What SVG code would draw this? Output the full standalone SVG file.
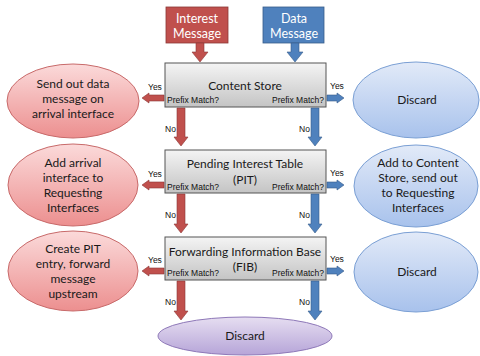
<svg xmlns="http://www.w3.org/2000/svg" width="480" height="356" viewBox="0 0 480 356">
<defs>
<linearGradient id="gGray" x1="0" y1="0" x2="0" y2="1"><stop offset="0" stop-color="#f4f4f4"/><stop offset="1" stop-color="#c4c4c4"/></linearGradient>
<linearGradient id="gPink" x1="0" y1="0" x2="0" y2="1"><stop offset="0" stop-color="#fbdada"/><stop offset="1" stop-color="#ec8f8f"/></linearGradient>
<linearGradient id="gBlue" x1="0" y1="0" x2="0" y2="1"><stop offset="0" stop-color="#e2eaf8"/><stop offset="1" stop-color="#a8c2ec"/></linearGradient>
<linearGradient id="gPurple" x1="0" y1="0" x2="0" y2="1"><stop offset="0" stop-color="#e6def1"/><stop offset="1" stop-color="#b6a5d8"/></linearGradient>
</defs>
<style>
.box{fill:url(#gGray);stroke:#555;stroke-width:1}
.pink{fill:url(#gPink);stroke:#c86a6a;stroke-width:1}
.blue{fill:url(#gBlue);stroke:#7a9fd4;stroke-width:1}
.purple{fill:url(#gPurple);stroke:#8e78b8;stroke-width:1}
.t{font-family:Lato,"Open Sans",sans-serif;font-size:12px;fill:#1a1a1a;text-anchor:middle}
.tw{font-family:Lato,"Open Sans",sans-serif;font-size:12.5px;fill:#ffffff;text-anchor:middle}
.s{font-family:"Liberation Sans",Arial,sans-serif;font-size:8.5px;fill:#111}
.ra{fill:#c0504d;stroke:#8c3836;stroke-width:0.6}
.ba{fill:#4f81bd;stroke:#385d8a;stroke-width:0.6}
</style>

<g id="interest">
<rect x="166" y="7" width="62" height="36" fill="#c0504d" stroke="#8c3836" stroke-width="0.8"/>
<text class="tw" x="197" y="23">Interest</text>
<text class="tw" x="197" y="38">Message</text>
</g>
<g id="data">
<rect x="263" y="7" width="61" height="36" fill="#4f81bd" stroke="#385d8a" stroke-width="0.8"/>
<text class="tw" x="294" y="23">Data</text>
<text class="tw" x="294" y="38">Message</text>
</g>

<g id="cs">
<rect class="box" x="165" y="63" width="161" height="44"/>
<text class="t" x="245" y="90">Content Store</text>
<text class="s" x="167" y="103">Prefix Match?</text>
<text class="s" x="324" y="103" text-anchor="end">Prefix Match?</text>
</g>
<g id="pit">
<rect class="box" x="165" y="150" width="161" height="43"/>
<text class="t" x="245" y="168">Pending Interest Table</text>
<text class="t" x="245" y="184">(PIT)</text>
<text class="s" x="167" y="190">Prefix Match?</text>
<text class="s" x="324" y="190" text-anchor="end">Prefix Match?</text>
</g>
<g id="fib">
<rect class="box" x="165" y="237" width="161" height="43"/>
<text class="t" x="245" y="256">Forwarding Information Base</text>
<text class="t" x="245" y="271">(FIB)</text>
<text class="s" x="167" y="276">Prefix Match?</text>
<text class="s" x="324" y="276" text-anchor="end">Prefix Match?</text>
</g>

<g id="cs-yes-interest">
<ellipse class="pink" cx="73" cy="101" rx="66" ry="37"/>
<text class="t" x="73" y="88">Send out data</text>
<text class="t" x="73" y="103">message on</text>
<text class="t" x="73" y="118">arrival interface</text>
</g>
<g id="pit-yes-interest">
<ellipse class="pink" cx="73" cy="185" rx="65" ry="41"/>
<text class="t" x="73" y="167">Add arrival</text>
<text class="t" x="73" y="182">interface to</text>
<text class="t" x="73" y="197">Requesting</text>
<text class="t" x="73" y="212">Interfaces</text>
</g>
<g id="fib-yes-interest">
<ellipse class="pink" cx="73" cy="271" rx="65" ry="40"/>
<text class="t" x="73" y="253">Create PIT</text>
<text class="t" x="73" y="268">entry, forward</text>
<text class="t" x="73" y="283">message</text>
<text class="t" x="73" y="298">upstream</text>
</g>
<g id="cs-yes-data">
<ellipse class="blue" cx="416" cy="100" rx="63" ry="38"/>
<text class="t" x="417" y="104">Discard</text>
</g>
<g id="pit-yes-data">
<ellipse class="blue" cx="416" cy="186" rx="62" ry="41"/>
<text class="t" x="418" y="167">Add to Content</text>
<text class="t" x="418" y="182">Store, send out</text>
<text class="t" x="418" y="197">to Requesting</text>
<text class="t" x="418" y="212">Interfaces</text>
</g>
<g id="fib-yes-data">
<ellipse class="blue" cx="416" cy="272" rx="62" ry="40"/>
<text class="t" x="417" y="276">Discard</text>
</g>
<g id="discard-bottom">
<ellipse class="purple" cx="245" cy="336" rx="87" ry="19"/>
<text class="t" x="245" y="340">Discard</text>
</g>

<g id="connectors">
<polygon class="ra" points="196,43 204,43 204,52 208,52 200,62 192,52 196,52"/>
<polygon class="ba" points="291,43 299,43 299,52 303,52 295,62 287,52 291,52"/>

<polygon class="ra" points="177,108 185,108 185,137 188,137 181,146 174,137 177,137"/>
<polygon class="ba" points="311,108 319,108 319,137 322,137 315,146 308,137 311,137"/>
<polygon class="ra" points="177,194 185,194 185,224 188,224 181,233 174,224 177,224"/>
<polygon class="ba" points="311,194 319,194 319,224 322,224 315,233 308,224 311,224"/>
<polygon class="ra" points="177,281 185,281 185,311 188,311 181,320 174,311 177,311"/>
<polygon class="ba" points="311,281 319,281 319,311 322,311 315,320 308,311 311,311"/>

<polygon class="ra" points="164,95 149,95 149,93 142,98 149,103 149,101 164,101"/>
<polygon class="ra" points="164,182 149,182 149,180 142,185 149,190 149,188 164,188"/>
<polygon class="ra" points="164,268 149,268 149,266 142,271 149,276 149,274 164,274"/>
<polygon class="ba" points="327,95 337,95 337,93 344,98 337,103 337,101 327,101"/>
<polygon class="ba" points="327,182 337,182 337,180 344,185 337,190 337,188 327,188"/>
<polygon class="ba" points="327,268 337,268 337,266 344,271 337,276 337,274 327,274"/>

<text class="s" x="148" y="90">Yes</text>
<text class="s" x="330" y="89">Yes</text>
<text class="s" x="148" y="177">Yes</text>
<text class="s" x="330" y="176">Yes</text>
<text class="s" x="148" y="263">Yes</text>
<text class="s" x="330" y="262">Yes</text>
<text class="s" x="165" y="132">No</text>
<text class="s" x="299" y="132">No</text>
<text class="s" x="165" y="218">No</text>
<text class="s" x="299" y="218">No</text>
<text class="s" x="165" y="305">No</text>
<text class="s" x="299" y="305">No</text>
</g>
</svg>
